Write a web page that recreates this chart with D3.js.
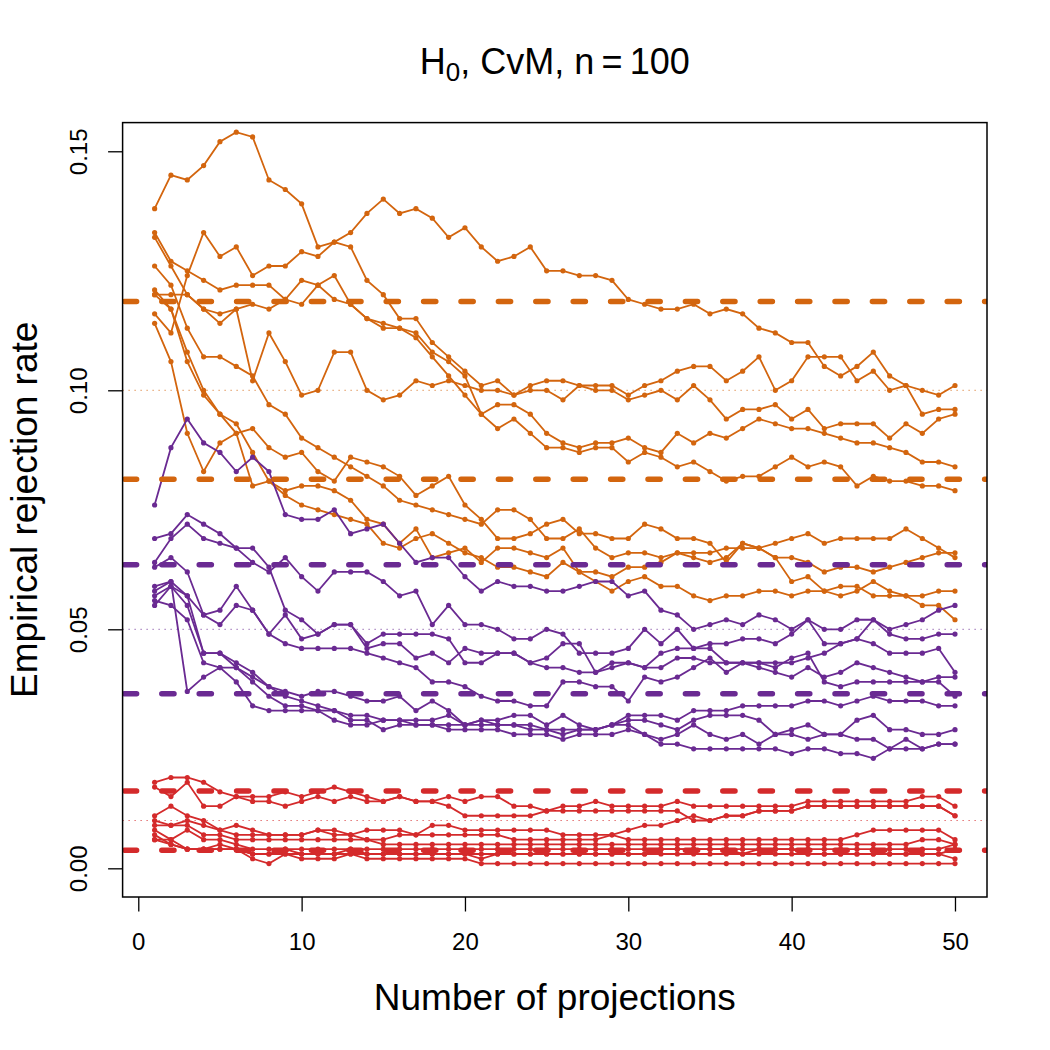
<!DOCTYPE html>
<html>
<head>
<meta charset="utf-8">
<script src="https://cdn.jsdelivr.net/npm/d3@7"></script>
<style>
  body { margin: 0; background: #ffffff; }
</style>
</head>
<body>
<div id="chart"></div>
<script>
// ===== DATA (rejections out of 1000 replicates, for 1..50 projections) =====
var projections = d3.range(1, 51);
var replicates = 1000;

// nominal levels and their colours
var levels = [0.10, 0.05, 0.01];
var levelColors = ["#D3650E", "#6A2A92", "#D42A2B"];
// 95% bands around each level
var bandLower = [0.0814, 0.0365, 0.0038];
var bandUpper = [0.1186, 0.0635, 0.0162];

var xTicks = [0, 10, 20, 30, 40, 50];
var yTicks = [0.00, 0.05, 0.10, 0.15];

// alpha = 0.10 (orange)
var orange1 = [138,145,144,147,152,154,153,144,142,139,130,131,133,137,140,137,138,136,132,134,130,127,128,130,125,125,124,124,123,119,118,117,117,118,116,117,116,113,112,110,110,105,103,105,108,103,101,100,99,101];
var orange2 = [116,112,124,133,128,130,124,126,126,129,128,131,130,123,120,115,115,110,107,104,101,102,99,101,102,102,101,101,101,99,101,102,104,105,105,102,104,107,100,102,107,107,107,102,104,100,101,95,96,96];
var orange3 = [133,127,125,123,121,122,122,122,119,123,122,124,118,115,114,113,112,108,106,103,95,97,97,95,91,89,88,89,89,90,88,87,91,89,91,90,92,94,93,92,92,91,90,89,89,88,87,85,85,84];
var orange4 = [132,126,120,117,116,117,118,117,119,118,122,119,118,115,113,113,111,107,103,99,95,92,94,91,88,88,87,88,88,85,87,86,84,85,83,81,82,82,84,86,84,85,84,80,82,81,81,80,80,79];
var orange5 = [120,120,120,117,114,117,102,112,106,99,100,108,108,100,98,99,102,101,102,101,100,100,99,100,100,98,101,100,100,98,99,100,98,101,98,94,96,96,97,94,96,92,93,93,93,90,93,91,94,95];
var orange6 = [114,106,91,83,89,91,92,88,86,87,83,81,86,85,84,82,78,80,82,76,73,69,69,70,72,73,70,70,69,69,72,71,69,69,68,64,68,67,65,65,64,62,63,63,62,63,64,65,66,66];
var orange7 = [126,122,113,107,107,105,103,97,95,90,88,86,84,82,80,77,76,75,74,73,72,75,75,73,69,69,71,67,65,66,66,65,66,66,66,67,67,67,68,69,70,68,69,69,69,69,71,69,67,65];
var orange8 = [120,117,106,99,95,91,80,81,79,80,80,79,77,73,72,68,71,65,66,67,64,67,67,66,65,67,62,62,61,63,63,64,66,65,64,65,68,67,65,60,61,58,57,58,60,58,57,55,55,52];
var orange9 = [121,117,108,100,95,93,87,81,78,76,75,74,73,72,68,67,69,70,68,66,65,63,63,62,61,64,62,60,58,60,61,59,59,57,56,57,57,58,58,57,58,58,59,59,57,57,57,57,58,58];

// alpha = 0.05 (purple)
var purple1 = [76,88,94,89,87,83,86,83,74,73,73,75,70,71,72,68,64,65,65,61,58,60,59,59,58,58,59,60,60,57,58,54,53,50,51,52,51,53,52,50,52,50,50,52,52,50,51,52,54,55];
var purple2 = [64,69,72,69,68,67,64,62,65,61,58,62,62,62,60,57,58,51,55,51,51,50,48,48,50,49,45,45,45,46,50,47,50,46,47,47,48,48,47,49,52,47,47,48,52,49,48,48,49,49];
var purple3 = [69,70,74,72,70,67,67,63,54,52,49,51,51,47,49,49,49,49,48,43,43,45,45,43,44,47,47,41,43,43,42,45,46,46,46,43,43,43,42,44,45,39,38,39,39,39,39,39,39,36];
var purple4 = [63,65,62,53,54,59,54,49,53,48,49,51,51,46,47,47,44,45,43,46,45,45,45,43,42,42,41,41,42,43,42,42,44,44,43,43,43,43,43,43,44,45,47,48,47,45,45,45,46,41];
var purple5 = [59,60,57,53,51,55,54,49,47,46,46,46,46,45,44,43,42,39,39,38,36,35,35,34,34,39,39,38,38,35,40,39,40,42,44,41,43,42,41,40,42,40,41,43,42,41,40,39,40,40];
var purple6 = [57,59,57,45,45,42,40,38,37,36,37,37,36,35,35,36,33,35,33,30,31,31,32,32,30,32,30,29,30,32,32,32,31,33,33,33,34,34,34,34,35,35,34,35,36,35,35,35,34,34];
var purple7 = [56,55,52,43,42,42,39,36,34,34,33,33,32,32,31,31,31,31,32,30,31,30,30,30,29,29,29,29,30,31,31,30,29,31,32,32,32,31,28,29,30,28,28,31,32,29,29,28,28,29];
var purple8 = [58,60,37,40,42,39,34,33,33,33,33,31,30,30,31,31,30,30,29,29,29,29,28,28,28,27,28,28,28,29,28,27,28,30,28,27,28,26,28,28,27,28,28,27,27,25,27,25,26,26];
var purple9 = [55,59,55,45,45,43,41,38,36,35,34,33,31,31,29,30,30,30,30,30,30,30,30,29,29,28,29,29,30,30,28,26,26,25,25,25,25,25,25,24,25,25,24,24,23,25,25,25,26,26];

// alpha = 0.01 (red)
var red1 = [18,19,19,18,16,15,15,15,16,15,16,17,16,15,14,15,14,14,15,14,15,15,13,13,12,13,13,14,13,13,13,13,14,13,13,13,13,13,13,13,14,14,14,14,14,14,14,15,15,13];
var red2 = [17,15,18,13,13,15,14,14,13,14,15,14,15,14,14,15,14,14,13,11,11,11,11,11,12,12,12,12,12,12,12,12,12,10,10,11,11,12,12,12,13,13,13,13,13,13,13,13,13,11];
var red3 = [11,13,11,10,8,9,8,7,7,7,8,8,7,8,8,8,7,9,9,8,8,8,8,8,8,7,7,7,7,8,9,9,10,11,10,11,11,12,12,12,13,13,13,13,13,13,13,13,13,11];
var red4 = [10,9,10,9,8,7,7,7,7,7,8,7,7,6,6,7,7,7,7,7,7,7,6,6,6,6,6,6,7,6,6,6,6,6,6,6,6,6,6,6,6,6,6,7,8,8,8,8,8,6];
var red5 = [9,9,9,7,7,6,6,6,6,6,6,6,6,6,5,5,5,5,5,5,5,5,5,5,5,5,5,5,5,5,5,5,5,5,5,5,5,5,5,5,5,5,5,5,5,5,5,6,6,5];
var red6 = [8,6,8,6,6,5,4,4,4,4,4,4,4,4,4,4,4,4,4,4,4,4,4,4,4,4,4,4,4,4,4,4,4,4,4,4,4,4,4,4,4,4,4,4,4,4,4,4,4,5];
var red7 = [7,5,4,4,5,4,3,3,3,3,3,3,3,3,3,3,3,3,3,3,3,3,3,3,3,3,3,3,3,3,3,3,3,3,3,3,3,3,3,3,3,3,3,3,3,3,3,3,3,4];
var red8 = [6,6,4,4,4,4,3,3,4,3,3,3,4,3,3,3,3,3,3,3,2,3,3,3,3,3,3,3,3,3,3,4,4,4,4,4,3,4,4,4,3,3,3,3,3,3,3,3,3,2];
var red9 = [6,5,4,4,4,4,2,1,3,2,2,2,3,2,2,2,2,2,2,2,1,1,1,1,1,1,1,1,1,1,1,1,1,1,1,1,1,1,1,1,1,1,1,1,1,1,1,1,1,1];

var groups = [
  [orange1, orange2, orange3, orange4, orange5, orange6, orange7, orange8, orange9],
  [purple1, purple2, purple3, purple4, purple5, purple6, purple7, purple8, purple9],
  [red1, red2, red3, red4, red5, red6, red7, red8, red9]
];

// ===== REJECTION RATES vs NUMBER OF PROJECTIONS =====
function rejection_plot()
{
  var w = 1050;
  var h = 1050;

  // plot region (R style, 4% padding on both axes)
  var left = 122.6, right = 987, top = 122.6, bottom = 897;

  var svg = d3.select("#chart")
              .append("svg")
              .attr("width", w)
              .attr("height", h)
              .style("font-family", "'Liberation Sans', Arial, Helvetica, sans-serif");

  var x = d3.scaleLinear()
            .domain([1 - 0.04 * 49, 50 + 0.04 * 49])
            .range([left, right]);

  var y = d3.scaleLinear()
            .domain([-0.006, 0.156])
            .range([bottom, top]);

  svg.append("clipPath")
     .attr("id", "plotclip")
     .append("rect")
     .attr("x", left)
     .attr("y", top)
     .attr("width", right - left)
     .attr("height", bottom - top);

  var plot = svg.append("g")
                .attr("clip-path", "url(#plotclip)");

  var line = d3.line()
               .x(function(d, i) { return x(projections[i]); })
               .y(function(d) { return y(d / replicates); });

  // one line + dots per scenario
  groups.forEach(function(series, g) {
    var grp = plot.append("g")
                  .attr("class", "level" + g);

    grp.selectAll("path")
       .data(series)
       .enter()
       .append("path")
       .attr("d", line)
       .attr("fill", "none")
       .attr("stroke", levelColors[g])
       .attr("stroke-width", 1.8);

    series.forEach(function(s) {
      grp.append("g")
         .selectAll("circle")
         .data(s)
         .enter()
         .append("circle")
         .attr("cx", function(d, i) { return x(projections[i]); })
         .attr("cy", function(d) { return y(d / replicates); })
         .attr("r", 2.6)
         .attr("fill", levelColors[g]);
    });
  });

  // nominal levels (dotted) and bands (dashed)
  levels.forEach(function(a, g) {
    plot.append("line")
        .attr("x1", left).attr("x2", right)
        .attr("y1", y(a)).attr("y2", y(a))
        .attr("stroke", levelColors[g])
        .attr("stroke-width", 1)
        .attr("stroke-dasharray", "1,5");

    [bandLower[g], bandUpper[g]].forEach(function(b) {
      plot.append("line")
          .attr("x1", left + 1.8).attr("x2", right + 20)
          .attr("y1", y(b)).attr("y2", y(b))
          .attr("stroke", levelColors[g])
          .attr("stroke-width", 5.5)
          .attr("stroke-linecap", "round")
          .attr("stroke-dasharray", "12.2,25.2");
    });
  });

  // box
  svg.append("rect")
     .attr("x", left)
     .attr("y", top)
     .attr("width", right - left)
     .attr("height", bottom - top)
     .attr("fill", "none")
     .attr("stroke", "#000")
     .attr("stroke-width", 1.5);

  // x axis
  var xAxis = svg.append("g")
                 .attr("transform", "translate(0," + bottom + ")")
                 .call(d3.axisBottom(x)
                         .tickValues(xTicks)
                         .tickFormat(d3.format("d"))
                         .tickSize(14.5)
                         .tickPadding(21));
  xAxis.select(".domain").remove();
  xAxis.selectAll("line").attr("stroke-width", 1.3);
  xAxis.selectAll("text")
       .attr("font-size", "24px")
       .attr("font-family", "'Liberation Sans', Arial, sans-serif")
       .attr("fill", "#000");

  // y axis (labels parallel to axis)
  var yAxis = svg.append("g")
                 .attr("transform", "translate(" + left + ",0)")
                 .call(d3.axisLeft(y)
                         .tickValues(yTicks)
                         .tickFormat(d3.format(".2f"))
                         .tickSize(14.5));
  yAxis.select(".domain").remove();
  yAxis.selectAll("line").attr("stroke-width", 1.3);
  yAxis.selectAll("text")
       .attr("x", 0)
       .attr("y", -35.6)
       .attr("dy", null)
       .attr("transform", "rotate(-90)")
       .attr("text-anchor", "middle")
       .attr("font-size", "24px")
       .attr("font-family", "'Liberation Sans', Arial, sans-serif")
       .attr("fill", "#000");

  // title  H0, CvM, n = 100
  var title = svg.append("text")
                 .attr("x", (left + right) / 2)
                 .attr("y", 74)
                 .attr("text-anchor", "middle")
                 .attr("font-size", "36px");
  title.append("tspan").text("H");
  title.append("tspan")
       .attr("font-size", "26px")
       .attr("dy", 7)
       .text("0");
  title.append("tspan")
       .attr("dy", -7)
       .text(", CvM, n\u2009=\u2009100");

  // axis titles
  svg.append("text")
     .attr("x", (left + right) / 2)
     .attr("y", 1010)
     .attr("text-anchor", "middle")
     .attr("font-size", "37px")
     .text("Number of projections");

  svg.append("text")
     .attr("transform", "translate(37," + (top + bottom) / 2 + ") rotate(-90)")
     .attr("text-anchor", "middle")
     .attr("font-size", "37px")
     .text("Empirical rejection rate");
}

function init(){
  rejection_plot();
}

window.onload = init;
</script>
</body>
</html>
